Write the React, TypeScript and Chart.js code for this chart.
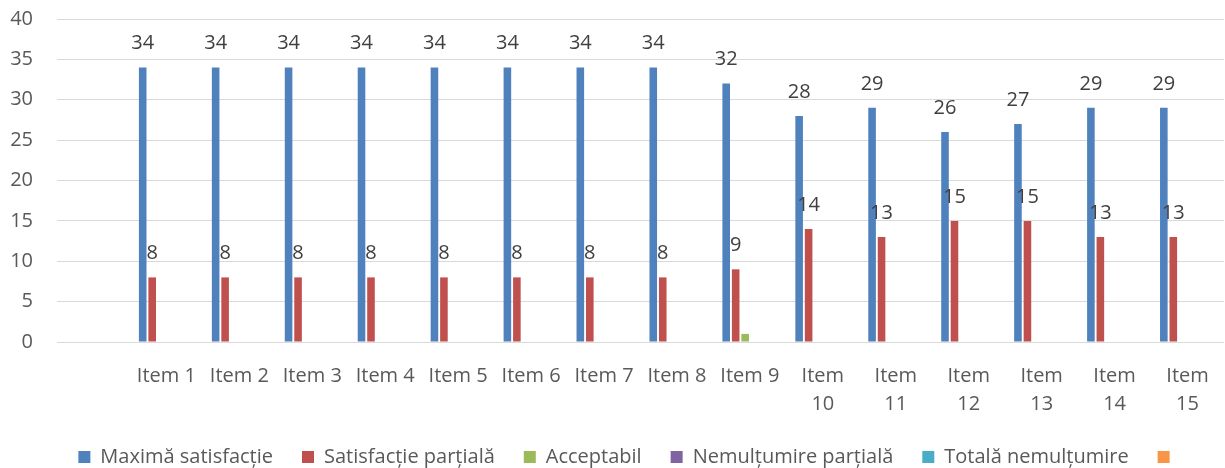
import React, { useEffect, useRef } from "react";
import { Chart, registerables } from "chart.js";

Chart.register(...registerables);

const categories: (string | string[])[] = [
  "",
  "Item 1",
  "Item 2",
  "Item 3",
  "Item 4",
  "Item 5",
  "Item 6",
  "Item 7",
  "Item 8",
  "Item 9",
  ["Item", "10"],
  ["Item", "11"],
  ["Item", "12"],
  ["Item", "13"],
  ["Item", "14"],
  ["Item", "15"],
];

const seriesNames = [
  "Maximă satisfacție",
  "Satisfacție parțială",
  "Acceptabil",
  "Nemulțumire parțială",
  "Totală nemulțumire",
  "",
];

const maximaSatisfactie = [null, 34, 34, 34, 34, 34, 34, 34, 34, 32, 28, 29, 26, 27, 29, 29];
const satisfactiePartiala = [null, 8, 8, 8, 8, 8, 8, 8, 8, 9, 14, 13, 15, 15, 13, 13];
const acceptabil = [null, 0, 0, 0, 0, 0, 0, 0, 0, 1, 0, 0, 0, 0, 0, 0];
const nemultumirePartiala = [null, 0, 0, 0, 0, 0, 0, 0, 0, 0, 0, 0, 0, 0, 0, 0];
const totalaNemultumire = [null, 0, 0, 0, 0, 0, 0, 0, 0, 0, 0, 0, 0, 0, 0, 0];
const faraNume = [null, 0, 0, 0, 0, 0, 0, 0, 0, 0, 0, 0, 0, 0, 0, 0];

const seriesColors = ["#4F81BD", "#C0504D", "#9BBB59", "#8064A2", "#4BACC6", "#F79646"];

const yMin = 0;
const yMax = 40;
const yStep = 5;

const FONT = "'Open Sans', 'Noto Sans', sans-serif";

const valueLabels = {
  id: "valueLabels",
  afterDatasetsDraw(chart: any) {
    const ctx = chart.ctx;
    ctx.save();
    ctx.font = `20px ${FONT}`;
    ctx.fillStyle = "#404040";
    ctx.textAlign = "center";
    ctx.textBaseline = "middle";
    [0, 1].forEach((di) => {
      const meta = chart.getDatasetMeta(di);
      meta.data.forEach((bar: any, i: number) => {
        const v = chart.data.datasets[di].data[i];
        if (v == null) return;
        ctx.fillText(String(v), bar.x, bar.y - 24);
      });
    });
    ctx.restore();
  },
};

const legendShift = {
  id: "legendShift",
  afterLayout(chart: any) {
    if (chart.legend) {
      chart.legend.left += 17;
      chart.legend.right += 17;
    }
  },
};

export default function App() {
  const ref = useRef<HTMLCanvasElement | null>(null);

  useEffect(() => {
    if (!ref.current) return;
    const allSeries = [
      maximaSatisfactie,
      satisfactiePartiala,
      acceptabil,
      nemultumirePartiala,
      totalaNemultumire,
      faraNume,
    ];
    const chart = new Chart(ref.current, {
      type: "bar",
      data: {
        labels: categories,
        datasets: allSeries.map((d, i) => ({
          label: seriesNames[i],
          data: d,
          backgroundColor: seriesColors[i],
          borderWidth: 0,
          categoryPercentage: 0.78,
          barPercentage: 0.8,
        })),
      },
      options: {
        animation: false,
        responsive: false,
        layout: { padding: { top: 19, right: 1, left: 0, bottom: -9 } },
        plugins: {
          tooltip: { enabled: false },
          legend: {
            position: "bottom",
            labels: {
              boxWidth: 12,
              boxHeight: 12,
              padding: 29,
              color: "#595959",
              font: { family: FONT, size: 20 },
            },
          },
        },
        scales: {
          x: {
            grid: { display: false },
            border: { display: false },
            ticks: {
              color: "#595959",
              font: { family: FONT, size: 20, lineHeight: 1.4 },
              maxRotation: 0,
              minRotation: 0,
              autoSkip: false,
              padding: 12,
            },
            afterFit: (s: any) => {
              s.height = 76;
            },
          },
          y: {
            min: yMin,
            max: yMax,
            border: { display: false },
            grid: { color: "#d9d9d9", lineWidth: 1, drawTicks: false },
            ticks: {
              stepSize: yStep,
              color: "#595959",
              font: { family: FONT, size: 20 },
              padding: 24,
            },
            afterFit: (s: any) => {
              s.width = 57;
              s.paddingTop = 0;
              s.paddingBottom = 0;
            },
          },
        },
      },
      plugins: [valueLabels, legendShift],
    } as any);
    return () => chart.destroy();
  }, []);

  return (
    <div style={{ position: "absolute", left: 0, top: 0, width: 1225, height: 468, background: "#fff" }}>
      <canvas ref={ref} width={1225} height={468} />
    </div>
  );
}
